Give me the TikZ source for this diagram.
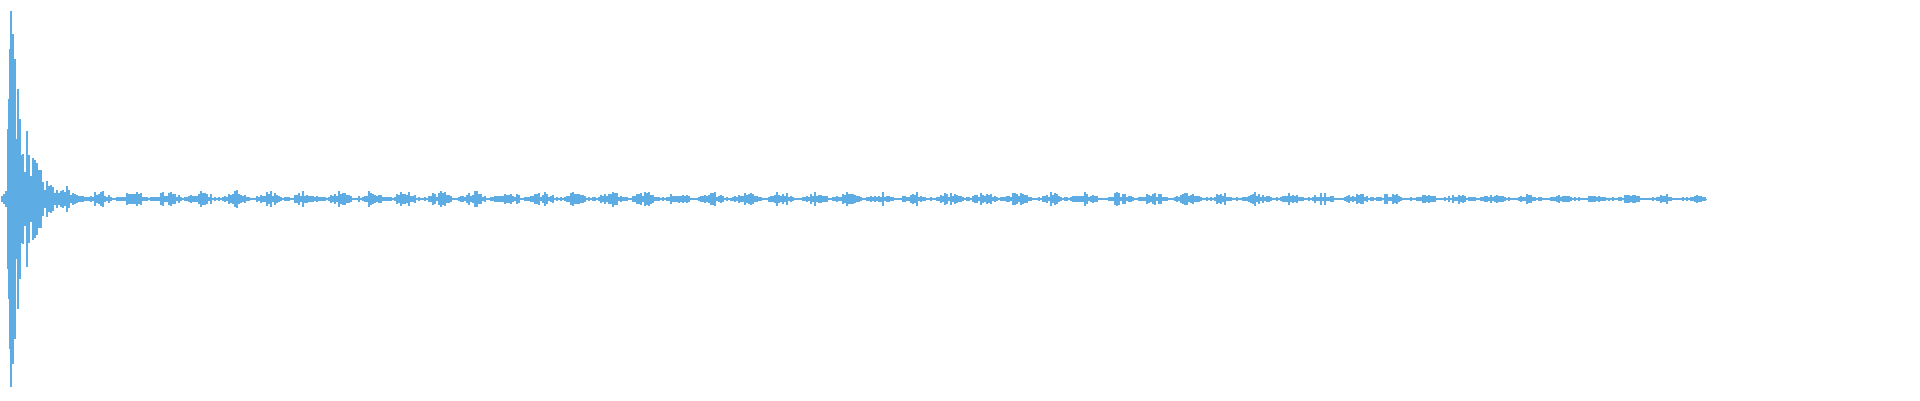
\documentclass[tikz,border=0pt]{standalone}
\begin{document}
\begin{tikzpicture}[x=1pt,y=1pt,yscale=-1]

% --- CONFIGURATION ---
\definecolor{waveBlue}{RGB}{94,172,228}
\tikzset{wavebar/.style={waveBlue, line width=1.3pt}}
\useasboundingbox (0,0) rectangle (1920,400);
\pgfmathsetseed{42}

% --- ATTACK ---
\foreach \x/\a in {2/3,4/5,6/8,8/70,9/100,10/150,11/188,12/60,13/165,14/90,15/140,16/60,18/110,20/80}
{
    \draw[wavebar] (\x,199-\a) -- (\x,199+\a);
}

% --- DECAY AND BURSTS ---
\foreach \x in {21,23,...,1706}
{
    \pgfmathsetmacro{\tail}{ifthenelse(\x>1420,0.5,1-0.3*(\x/1420))}
    \pgfmathsetmacro{\ph}{mod(\x+2,34)/34}
    \pgfmathsetmacro{\burst}{8*\tail*(0.15+0.85*(0.5+0.5*cos(360*\ph)))+1}
    \pgfmathsetmacro{\decay}{90*exp(-min((\x-21)/16,12))}
    \pgfmathsetmacro{\a}{(\decay+\burst)*(0.3+0.7*rnd)}
    \draw[wavebar] (\x,199-\a) -- (\x,199+\a);
}
\draw[waveBlue, line width=0.8pt] (2,199) -- (1707,199);

\end{tikzpicture}
\end{document}
